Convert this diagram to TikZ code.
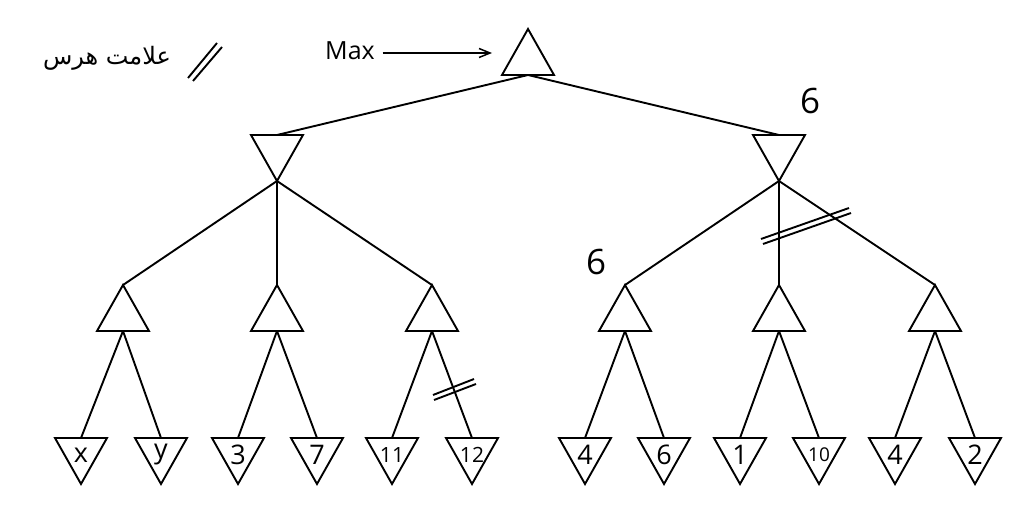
\documentclass[tikz,border=0pt]{standalone}
\usepackage{fontspec}
\setmainfont{Open Sans}
\newfontfamily\arabicfont[Script=Arabic]{DejaVu Sans}
\TeXXeTstate=1
\usetikzlibrary{arrows.meta}
\newcommand\smallnum[1]{{\fontsize{21}{21}\selectfont #1}}
\newcommand\tinynum[1]{{\fontsize{19}{19}\selectfont #1}}
\begin{document}
\begin{tikzpicture}[x=1pt,y=-1pt, line width=1.9pt, line join=miter,
  lbl/.style={font=\fontsize{27}{27}\selectfont, inner sep=0pt},
  maxtri/.pic={\draw (0,0) -- (26,46) -- (-26,46) -- cycle;
    \coordinate (-top) at (0,0); \coordinate (-bot) at (0,46);},
  mintri/.pic={\draw (-26,0) -- (26,0) -- (0,46) -- cycle;
    \coordinate (-top) at (0,0); \coordinate (-bot) at (0,46);},
  leaf/.pic={\draw (-26,0) -- (26,0) -- (0,46) -- cycle;
    \coordinate (-top) at (0,0);
    \node[lbl] (-lab) at (0,17) {#1};},
  edge/.style={line width=1.9pt},
  prune/.style={line width=1.9pt},
  value/.style={font=\fontsize{35}{35}\selectfont, inner sep=0pt}
]
\useasboundingbox (0,0) rectangle (1025,510);

% legend
\node[font=\arabicfont\fontsize{24}{24}\selectfont, inner sep=0pt] (legend) at (107,58) {\beginR علامت هرس\endR};
\draw[prune] (188,78) -- (217,43);
\draw[prune] (193,81) -- (222,47);

% tree nodes
\pic (r) at (528,29) {maxtri};
\pic (a) at (277,135) {mintri};
\pic (b) at (779,135) {mintri};
\pic (a1) at (123,285) {maxtri};
\pic (a2) at (277,285) {maxtri};
\pic (a3) at (432,285) {maxtri};
\pic (b1) at (625,285) {maxtri};
\pic (b2) at (779,285) {maxtri};
\pic (b3) at (935,285) {maxtri};

\pic (l1) at (81,438) {leaf={x}};
\pic (l2) at (161,438) {leaf={y}};
\pic (l3) at (238,438) {leaf={3}};
\pic (l4) at (317,438) {leaf={7}};
\pic (l5) at (392,438) {leaf={\smallnum{11}}};
\pic (l6) at (472,438) {leaf={\smallnum{12}}};
\pic (l7) at (585,438) {leaf={4}};
\pic (l8) at (664,438) {leaf={6}};
\pic (l9) at (740,438) {leaf={1}};
\pic (l10) at (819,438) {leaf={\tinynum{10}}};
\pic (l11) at (895,438) {leaf={4}};
\pic (l12) at (975,438) {leaf={2}};

% edges
\draw[edge] (r-bot) -- (a-top);
\draw[edge] (r-bot) -- (b-top);
\foreach \p/\c in {a/a1,a/a2,a/a3,b/b1,b/b2,b/b3}{
  \draw[edge] (\p-bot) -- (\c-top);
}
\foreach \p/\c in {a1/l1,a1/l2,a2/l3,a2/l4,a3/l5,a3/l6,b1/l7,b1/l8,b2/l9,b2/l10,b3/l11,b3/l12}{
  \draw[edge] (\p-bot) -- (\c-top);
}

% Max arrow
\node[font=\fontsize{25}{25}\selectfont, inner sep=0pt] (maxl) at (350,51) {Max};
\coordinate (tipend) at (492,53);
\draw[line width=1.5pt, -{Straight Barb[length=11pt,width=9pt,line width=1.5pt]}] ([xshift=7pt]maxl.east |- tipend) -- (tipend);

% values
\node[value] (v1) at (810,101) {6};
\node[value] (v2) at (596,262) {6};

% pruning marks
\draw[prune] (433,395) -- (474,379);
\draw[prune] (434,400) -- (476,384);
\draw[prune] (761,239) -- (849,208);
\draw[prune] (763,244) -- (851,213);
\end{tikzpicture}
\end{document}
